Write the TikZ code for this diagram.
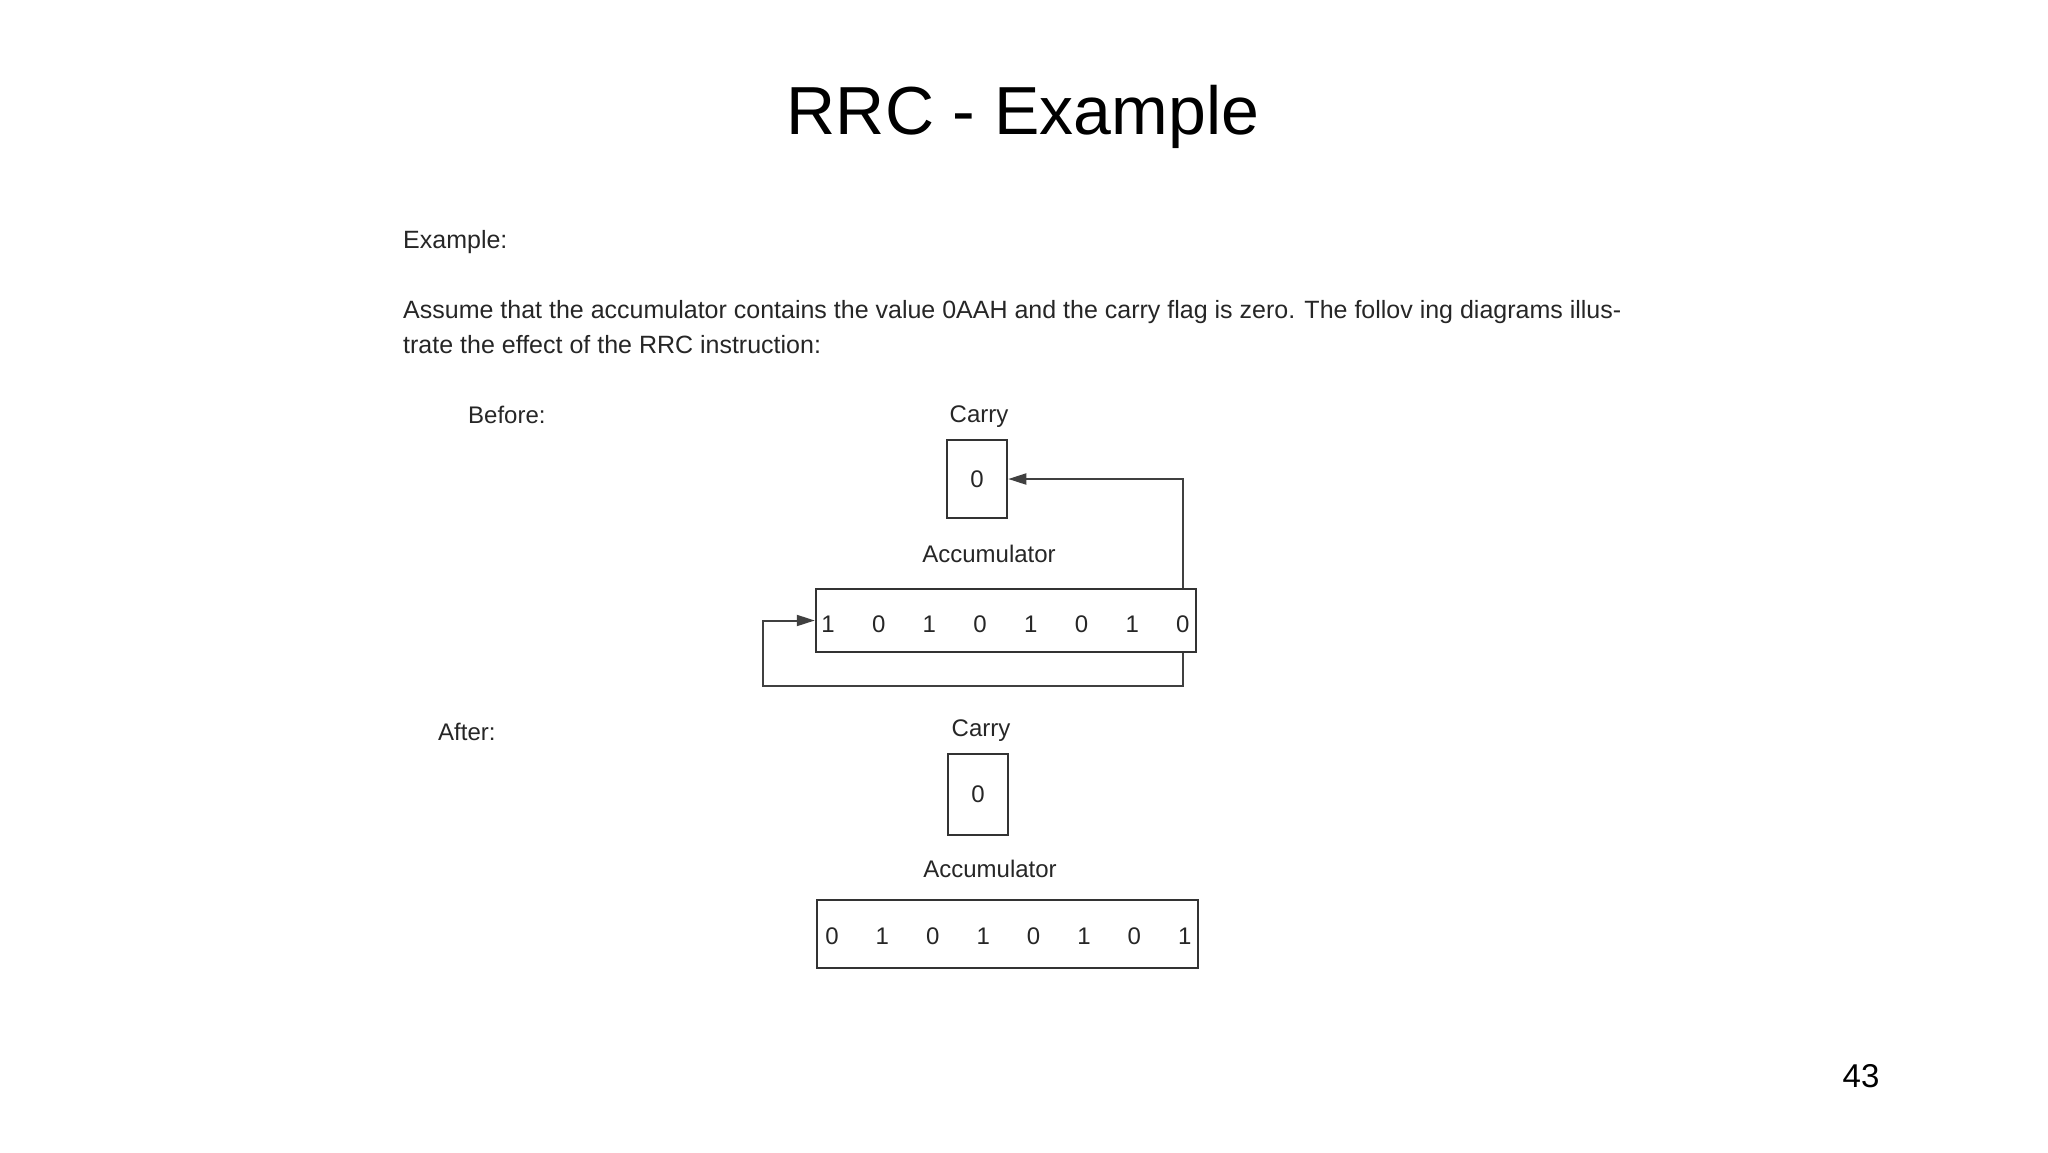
\documentclass[tikz,border=0pt]{standalone}
\usepackage{fontspec}
\setmainfont{Liberation Sans}
\usetikzlibrary{arrows,arrows.meta,positioning}

\begin{document}
\begin{tikzpicture}[x=1pt,y=-1pt,
  scan/.style={text=black!85,font=\fontsize{25}{30}\selectfont,inner sep=0pt},
  lbl/.style={text=black!85,font=\fontsize{24}{28}\selectfont,inner sep=0pt},
  reg/.style={draw=black!80,line width=2.5pt,inner sep=0pt},
  bit/.style={lbl,anchor=base},
  flow/.style={draw=black!75,line width=2pt,-{Triangle[length=18pt,width=11pt]}}]
\useasboundingbox (0,0) rectangle (2048,1152);
% slide title and page number
\node (title) [anchor=base,font=\fontsize{68}{80}\selectfont] at (1023,134) {RRC - Example};
\node (page) [anchor=base,font=\fontsize{33}{40}\selectfont] at (1861,1087) {43};
% scanned text
\node (ex) [scan,anchor=base west] at (403,248) {Example:};
\node (line1) [scan,anchor=base west] at (403,318) {Assume that the accumulator contains the value 0AAH and the carry flag is zero. The follov ing diagrams illus-};
\node (line2) [scan,anchor=base west] at (403,353) {trate the effect of the RRC instruction:};
% before
\node (before) [lbl,anchor=base west] at (468,423) {Before:};
\node (carryAlbl) [lbl,anchor=base] at (979,422) {Carry};
\node (carryA) [reg,lbl,minimum width=60pt,minimum height=78pt] at (977,479) {0};
\node (accAlbl) [lbl,anchor=base] at (989,562) {Accumulator};
\node (accA) [reg,minimum width=380pt,minimum height=63pt] at (1006,620.5) {};
\foreach \v [count=\i] in {1,0,1,0,1,0,1,0}
  \node (bA\i) [bit] at (777.3+50.7*\i,632) {\v};
\coordinate (loopA) at (763,686);
\draw[flow] (accA.north -| bA8) |- (carryA.east);
\draw[flow] (accA.south -| bA8) |- (loopA) |- (accA.west);
% after
\node (after) [lbl,anchor=base west] at (438,740) {After:};
\node (carryBlbl) [lbl,anchor=base] at (981,736) {Carry};
\node (carryB) [reg,lbl,minimum width=60pt,minimum height=81pt] at (978,794.5) {0};
\node (accBlbl) [lbl,anchor=base] at (990,877) {Accumulator};
\node (accB) [reg,minimum width=381pt,minimum height=68pt] at (1007.5,934) {};
\foreach \v [count=\i] in {0,1,0,1,0,1,0,1}
  \node (bB\i) [bit] at (781.6+50.4*\i,944) {\v};
\end{tikzpicture}
\end{document}
